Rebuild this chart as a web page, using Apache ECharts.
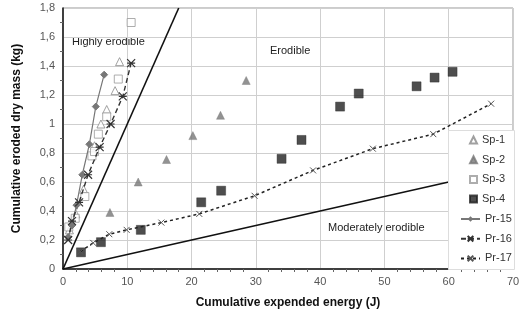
<!DOCTYPE html>
<html>
<head>
<meta charset="utf-8">
<script src="https://cdn.jsdelivr.net/npm/echarts@6/dist/echarts.min.js"></script>
<style>html,body{margin:0;padding:0;background:#fff}#c{width:528px;height:316px}</style>
</head>
<body>
<div id="c"></div>
<script>
var xTicks = [0, 10, 20, 30, 40, 50, 60, 70];
var yTicks = [0, 0.2, 0.4, 0.6, 0.8, 1, 1.2, 1.4, 1.6, 1.8];
var sp1 = [[1.0,0.27],[2.0,0.38],[3.2,0.55],[4.9,0.85],[5.9,1.0],[6.8,1.10],[8.1,1.23],[8.8,1.43]];
var sp2 = [[7.3,0.39],[11.7,0.60],[16.1,0.755],[20.2,0.92],[24.5,1.06],[28.5,1.30]];
var sp3 = [[0.9,0.29],[1.9,0.35],[3.4,0.50],[4.5,0.78],[4.9,0.81],[5.5,0.93],[6.8,1.05],[8.6,1.31],[10.6,1.70]];
var sp4 = [[2.8,0.115],[5.9,0.185],[12.1,0.27],[21.5,0.46],[24.6,0.54],[34.0,0.76],[37.1,0.89],[43.1,1.12],[46.0,1.21],[55.0,1.26],[57.8,1.32],[60.6,1.36]];
var pr15 = [[0.8,0.22],[1.4,0.30],[2.1,0.44],[3.0,0.65],[4.1,0.86],[5.1,1.12],[6.4,1.34]];
var pr16 = [[0.8,0.20],[1.4,0.33],[2.5,0.46],[3.9,0.65],[5.7,0.84],[7.4,1.0],[9.3,1.19],[10.6,1.42]];
var pr17 = [[2.7,0.12],[4.7,0.18],[7.2,0.24],[9.9,0.27],[15.3,0.32],[21.2,0.38],[29.8,0.505],[38.9,0.68],[48.2,0.83],[57.6,0.93],[66.6,1.14]];
var highLine = [[0,0],[18,1.8]];
var modLine = [[0,0],[60,0.6]];
var spNames = ['Sp-1','Sp-2','Sp-3','Sp-4'];
var prNames = ['Pr-15','Pr-16','Pr-17'];

var chart = echarts.init(document.getElementById('c'));
var font = 'Liberation Sans, Arial, sans-serif';
var xMark = 'path://M0,0L10,10M10,0L0,10';
var starMark = 'path://M0,0L10,10M10,0L0,10M0,5L10,5';
var legText = {color: '#333', fontSize: 11, fontFamily: font, lineHeight: 12};
chart.setOption({
  animation: false,
  textStyle: {fontFamily: font},
  grid: {left: 63, right: 15, top: 8, bottom: 47, show: true, borderColor: '#999', borderWidth: 1},
  legend: [
    {data: spNames, orient: 'vertical', left: 469, top: 134, padding: 0,
      itemGap: 7.7, itemWidth: 7, itemHeight: 7, textStyle: legText, z: 5},
    {data: prNames, orient: 'vertical', left: 460, top: 213, padding: 0,
      itemGap: 7.7, itemWidth: 19, itemHeight: 7, textStyle: legText, z: 5}
  ],
  xAxis: {
    type: 'value', min: xTicks[0], max: xTicks[xTicks.length-1], interval: 10,
    name: 'Cumulative expended energy (J)', nameLocation: 'middle', nameGap: 28,
    nameTextStyle: {fontWeight: 'bold', fontSize: 12, color: '#111'},
    axisLine: {lineStyle: {color: '#111', width: 1.5}},
    axisTick: {show: false},
    minorTick: {show: true, splitNumber: 5, length: 3, lineStyle: {color: '#666'}},
    axisLabel: {color: '#555', fontSize: 11, margin: 7},
    splitLine: {lineStyle: {color: '#cfcfcf'}}
  },
  yAxis: {
    type: 'value', min: yTicks[0], max: yTicks[yTicks.length-1], interval: 0.2,
    name: 'Cumulative eroded dry mass (kg)', nameLocation: 'middle', nameGap: 40,
    nameTextStyle: {fontWeight: 'bold', fontSize: 12, color: '#111'},
    axisLine: {lineStyle: {color: '#111', width: 1.5}},
    axisTick: {show: false},
    minorTick: {show: true, splitNumber: 2, length: 3, lineStyle: {color: '#666'}},
    axisLabel: {color: '#555', fontSize: 11, margin: 8,
      formatter: function(v){ return (Math.round(v*10)/10).toString().replace('.', ','); }},
    splitLine: {lineStyle: {color: '#cfcfcf'}}
  },
  series: [
    {type: 'line', data: highLine, symbol: 'none', lineStyle: {color: '#111', width: 1.6}, silent: true, z: 1},
    {type: 'line', data: modLine, symbol: 'none', lineStyle: {color: '#111', width: 1.6}, silent: true, z: 1},
    {name: 'Sp-1', type: 'scatter', data: sp1, symbol: 'triangle', symbolSize: 8,
      itemStyle: {color: '#fff', borderColor: '#888', borderWidth: 1}},
    {name: 'Sp-2', type: 'scatter', data: sp2, symbol: 'triangle', symbolSize: 8,
      itemStyle: {color: '#777', borderColor: '#777', borderWidth: 0.5}},
    {name: 'Sp-3', type: 'scatter', data: sp3, symbol: 'rect', symbolSize: 8,
      itemStyle: {color: '#fff', borderColor: '#999', borderWidth: 1}},
    {name: 'Sp-4', type: 'scatter', data: sp4, symbol: 'rect', symbolSize: 9,
      itemStyle: {color: '#222', borderColor: '#222', borderWidth: 0.5}},
    {name: 'Pr-15', type: 'line', data: pr15, symbol: 'diamond', symbolSize: 7,
      lineStyle: {color: '#777', width: 1.2}, itemStyle: {color: '#777', borderColor: '#777'}},
    {name: 'Pr-16', type: 'line', data: pr16, symbol: starMark, symbolSize: 8,
      lineStyle: {color: '#333', width: 1.4, type: [5, 3]},
      itemStyle: {color: 'none', borderColor: '#333', borderWidth: 1.2}},
    {name: 'Pr-17', type: 'line', data: pr17, symbol: xMark, symbolSize: 6,
      lineStyle: {color: '#222', width: 1.5, type: [3, 3]},
      itemStyle: {color: 'none', borderColor: '#555', borderWidth: 1}}
  ],
  graphic: [
    {type: 'rect', left: 448, top: 130, z: 3, shape: {width: 66, height: 139},
      style: {fill: '#fff', stroke: '#ddd', lineWidth: 1}},
    {type: 'text', left: 72, top: 36, style: {text: 'Highly erodible', fill: '#222', font: '11px ' + font}},
    {type: 'text', left: 270, top: 45, style: {text: 'Erodible', fill: '#222', font: '11px ' + font}},
    {type: 'text', left: 328, top: 222, style: {text: 'Moderately erodible', fill: '#222', font: '11px ' + font}}
  ]
});
</script>
</body>
</html>
